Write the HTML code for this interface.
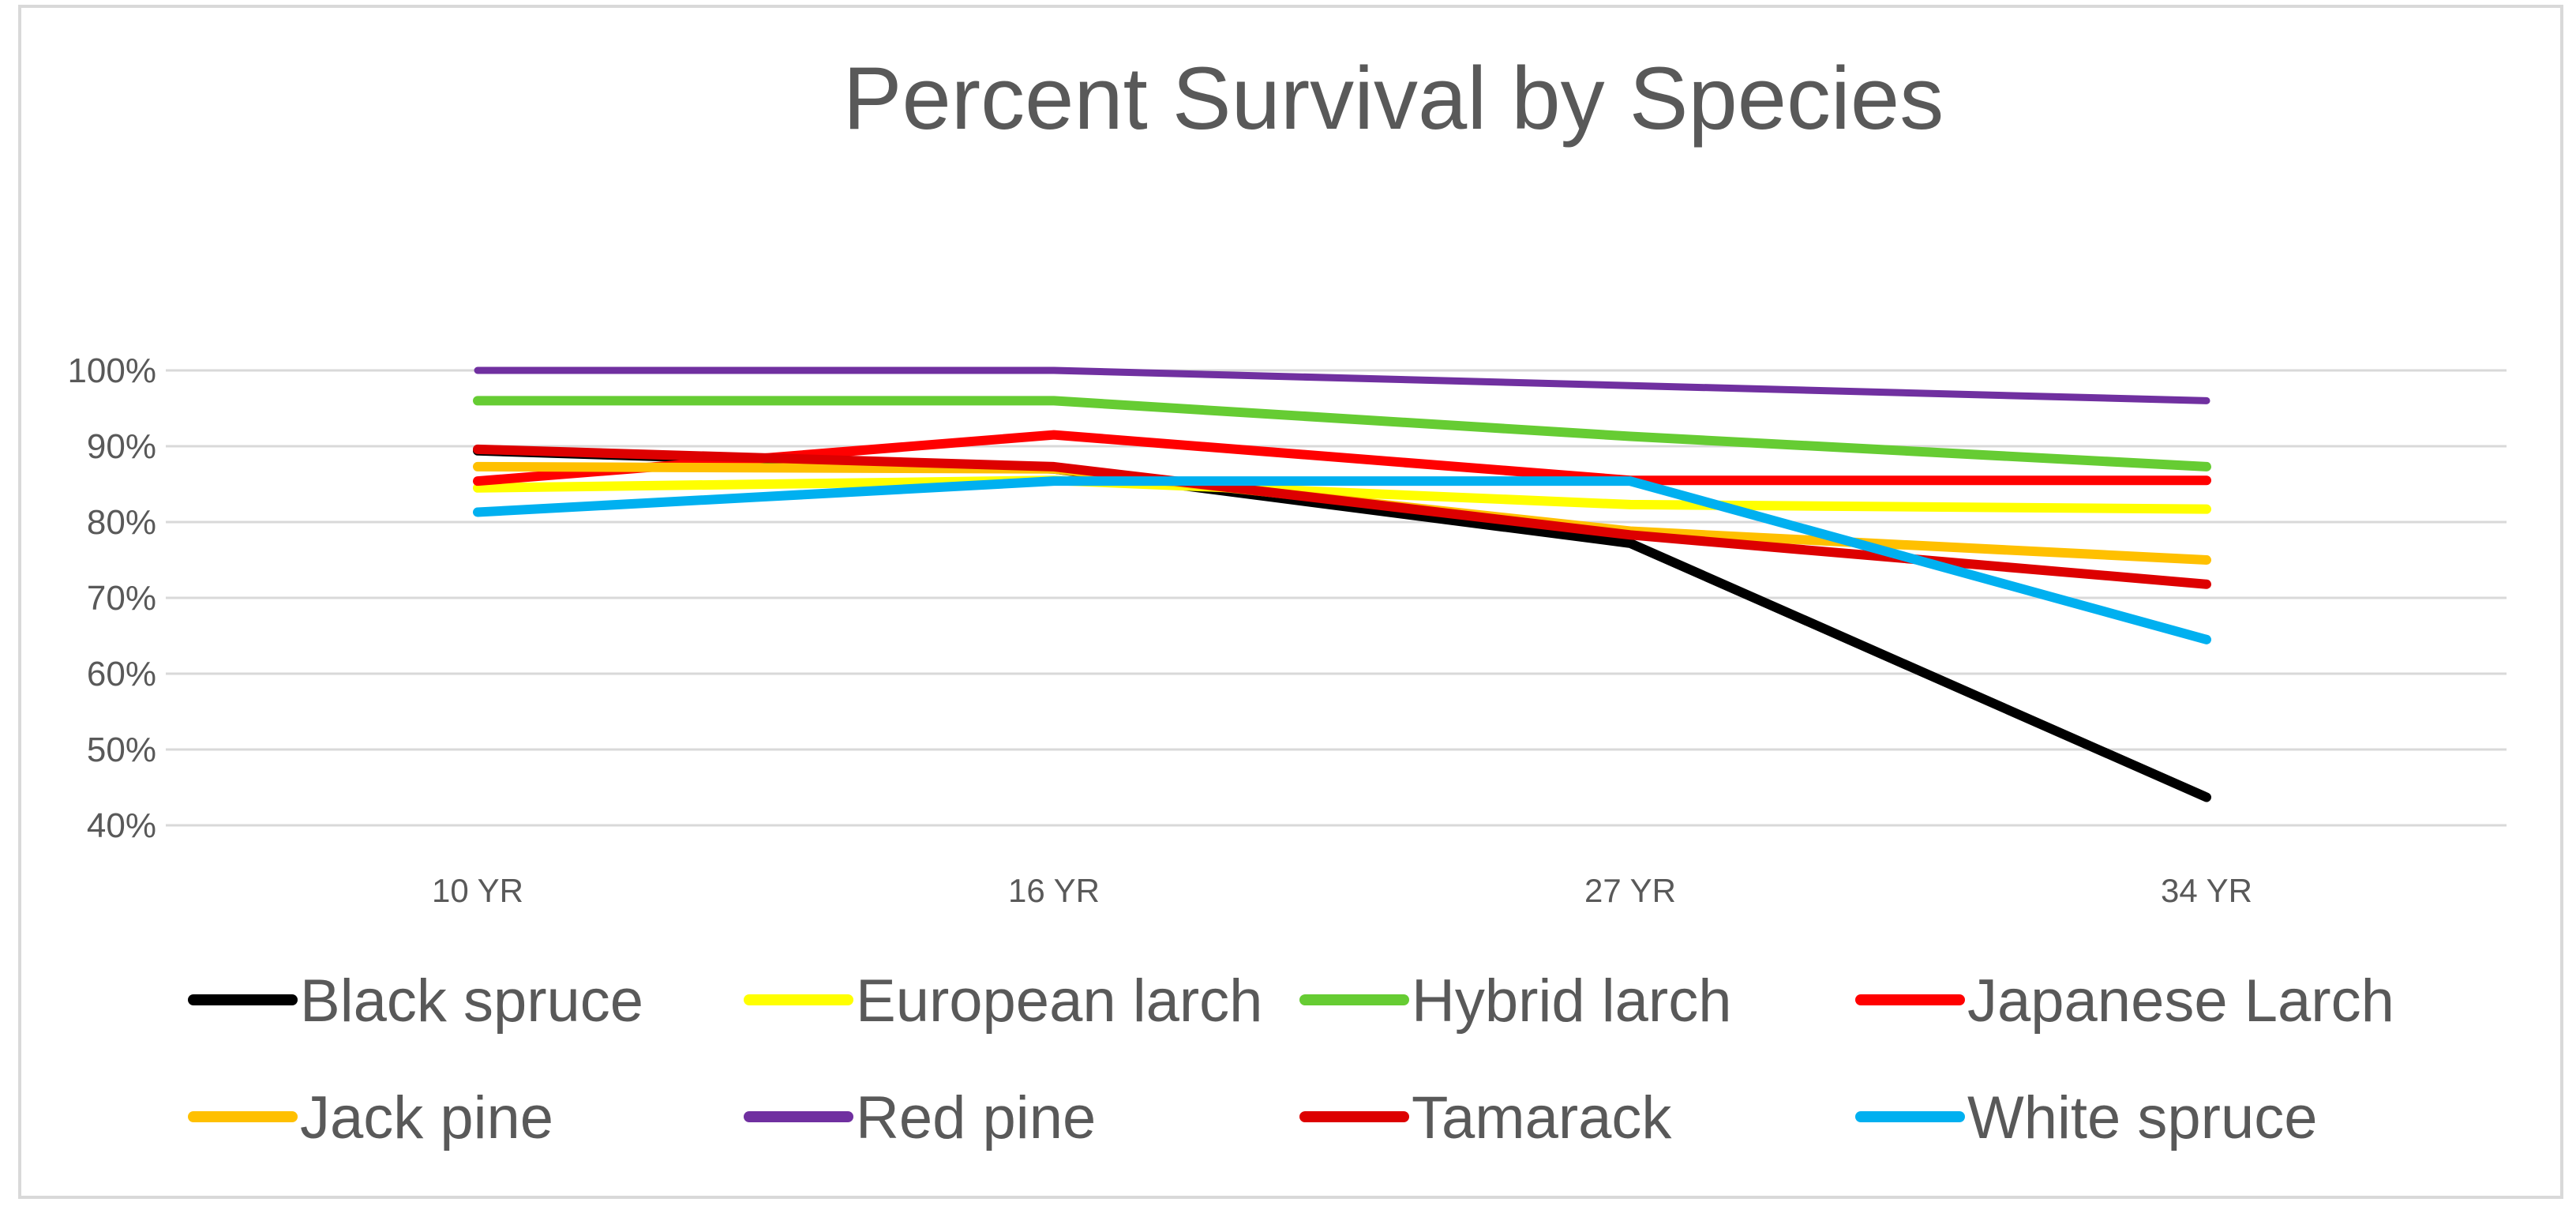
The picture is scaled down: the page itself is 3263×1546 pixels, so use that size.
<!DOCTYPE html>
<html><head><meta charset="utf-8"><style>
html,body{margin:0;padding:0;background:#fff;}
svg{display:block;font-family:"Liberation Sans",sans-serif;}
</style></head><body>
<svg id="chart" width="3263" height="1546" viewBox="0 0 3263 1546">
<rect x="25" y="8" width="3220" height="1508" fill="#fff" stroke="#d9d9d9" stroke-width="4"/>
<text x="1765" y="163" font-size="112" fill="#595959" text-anchor="middle">Percent Survival by Species</text>
<g id="grid"></g><g id="ylab"></g><g id="xlab"></g><g id="lines"></g><g id="legend"></g>
</svg>
<script>
const categories = ["10 YR","16 YR","27 YR","34 YR"];
const yTicks = [40,50,60,70,80,90,100];
const seriesNames = ["Black spruce","European larch","Hybrid larch","Japanese Larch","Jack pine","Red pine","Tamarack","White spruce"];
const seriesColors = ["#000000","#FFFF00","#66CC33","#FF0000","#FFC000","#7030A0","#DD0000","#00B0F0"];
const blackSpruce = [89.4,87.0,77.2,43.7];
const europeanLarch = [84.5,85.5,82.3,81.7];
const hybridLarch = [96.0,96.0,91.3,87.3];
const japaneseLarch = [85.4,91.5,85.5,85.5];
const jackPine = [87.3,87.0,78.8,75.0];
const redPine = [100,100,98.0,96.0];
const tamarack = [89.6,87.3,78.3,71.8];
const whiteSpruce = [81.3,85.4,85.4,64.5];
const seriesValues = [blackSpruce,europeanLarch,hybridLarch,japaneseLarch,jackPine,redPine,tamarack,whiteSpruce];

const NS="http://www.w3.org/2000/svg";
const plotL=240, plotR=3160, gridL=210, gridR=3175, yTop=469, yBot=1045, vMin=40, vMax=100;
const band=(plotR-plotL)/categories.length;
function xPos(i){return plotL+band*(i+0.5);}
function yPos(v){return yBot-(v-vMin)/(vMax-vMin)*(yBot-yTop);}
function mk(tag,attrs,parent){const e=document.createElementNS(NS,tag);for(const k in attrs)e.setAttribute(k,attrs[k]);parent.appendChild(e);return e;}

const grid=document.getElementById('grid'), ylab=document.getElementById('ylab');
yTicks.forEach(t=>{
  const l=mk('line',{x1:gridL,x2:gridR,y1:yPos(t),y2:yPos(t),stroke:'#d9d9d9','stroke-width':3},grid);
  
  
  const tx=mk('text',{x:198,y:yPos(t)+15,'font-size':44,fill:'#595959','text-anchor':'end'},ylab);
  tx.textContent=t+'%';
  
  
});
const xlab=document.getElementById('xlab');
categories.forEach((c,i)=>{
  const tx=mk('text',{x:xPos(i),y:1142,'font-size':42,fill:'#595959','text-anchor':'middle'},xlab);
  tx.textContent=c;
  
  
});
const lines=document.getElementById('lines');
seriesValues.forEach((vals,s)=>{
  const pts=vals.map((v,i)=>xPos(i)+','+yPos(v)).join(' ');
  const p=mk('polyline',{points:pts,fill:'none',stroke:seriesColors[s],'stroke-width':s===5?9:12,'stroke-linecap':'round','stroke-linejoin':'round'},lines);
  
  
});
const legend=document.getElementById('legend');
seriesNames.forEach((n,s)=>{
  const col=s%4,row=Math.floor(s/4);
  const x0=240+col*704, y0=row===0?1266:1414;
  const g=mk('g',{},legend);
  
  
  mk('line',{x1:x0+5,x2:x0+130,y1:y0,y2:y0,stroke:seriesColors[s],'stroke-width':14,'stroke-linecap':'round'},g);
  const t=mk('text',{x:x0+140,y:y0+27,'font-size':76,fill:'#595959'},g);
  t.textContent=n;
});
</script>
</body></html>
